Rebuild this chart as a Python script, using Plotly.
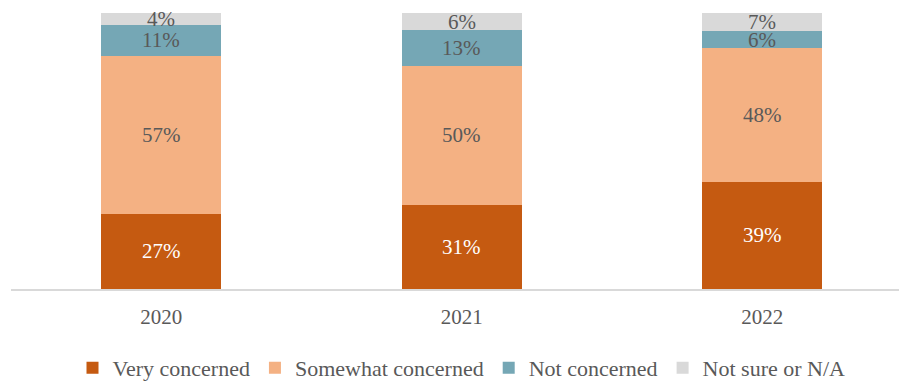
import plotly.graph_objects as go

years = ["2020", "2021", "2022"]
series_names = ["Very concerned", "Somewhat concerned", "Not concerned", "Not sure or N/A"]
very = [27.2, 30.6, 38.8]
somewhat = [57.4, 50.2, 48.4]
not_concerned = [11.2, 13.0, 6.1]
not_sure = [4.2, 6.2, 6.7]

colors = ["#C55A11", "#F4B183", "#75A7B5", "#D9D9D9"]
text_colors = ["#FFFFFF", "#595959", "#595959", "#595959"]
FONT = "Liberation Serif, DejaVu Serif, serif"

fig = go.Figure()
all_series = [very, somewhat, not_concerned, not_sure]
base = [0.0] * len(years)
for name, vals, c, tc in zip(series_names, all_series, colors, text_colors):
    fig.add_trace(go.Bar(
        x=years, y=vals, name=name,
        marker=dict(color=c, line=dict(width=0)),
        width=0.4,
        hoverinfo="skip",
    ))
    for i, v in enumerate(vals):
        fig.add_annotation(x=i, y=base[i] + v / 2, text=f"{round(v)}%",
                           showarrow=False, xref="x", yref="y",
                           font=dict(family=FONT, size=21, color=tc))
        base[i] += v

fig.update_layout(
    barmode="stack",
    width=899, height=381,
    margin=dict(l=11, r=0, t=13, b=92),
    paper_bgcolor="white", plot_bgcolor="white",
    font=dict(family=FONT, color="#595959"),
    showlegend=True,
    legend=dict(orientation="h", x=0.5 + 12 / 899, xanchor="center", xref="container",
                y=1 - 368 / 381, yanchor="middle", yref="container",
                font=dict(family=FONT, size=22, color="#595959"),
                itemwidth=30, traceorder="normal", tracegroupgap=0),
    xaxis=dict(type="category", range=[-0.5, 2.455], showgrid=False, showline=True,
               linecolor="#D9D9D9", linewidth=2, ticks="",
               tickfont=dict(family=FONT, size=21, color="#595959"),
               ticklabelstandoff=8, fixedrange=True),
    yaxis=dict(range=[0, 100], visible=False, showgrid=False, fixedrange=True),
)

fig.write_html("out.html", config={"displayModeBar": False})
